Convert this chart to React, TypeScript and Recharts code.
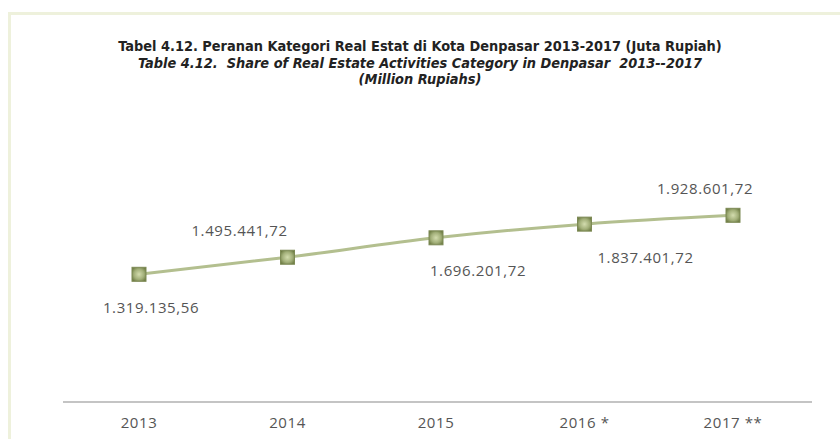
// Peranan kategori real estat Kota Denpasar, garis dengan label nilai.
import { LabelList, Line, LineChart, XAxis, YAxis } from "recharts";

const YEARS = ["2013", "2014", "2015", "2016 *", "2017 **"];
const VALUES = [1319135.56, 1495441.72, 1696201.72, 1837401.72, 1928601.72];

// Posisi label relatif ke titik (atas/bawah, geser kiri/kanan) seperti di gambar.
const LABEL_OFFSETS: [number, number][] = [
  [12, 33],
  [-48, -27],
  [42, 32],
  [61, 33],
  [-28, -27],
];

const data = YEARS.map((year, i) => ({ year, value: VALUES[i] }));

// Format Indonesia: titik untuk ribuan, koma untuk desimal.
function fmt(v: number) {
  const [int, dec] = v.toFixed(2).split(".");
  return int.replace(/\B(?=(\d{3})+(?!\d))/g, ".") + "," + dec;
}

const FONT = "'Open Sans', 'Noto Sans', sans-serif";
const TITLE_FONT = "'Liberation Sans Narrow', 'DejaVu Sans Condensed', sans-serif";

function SquareDot(props: { cx?: number; cy?: number; index?: number }) {
  const { cx, cy, index } = props;
  if (cx == null || cy == null) return null;
  return (
    <rect
      key={`dot-${index}`}
      x={cx - 7}
      y={cy - 7}
      width={14}
      height={14}
      fill="url(#dotGrad)"
      stroke="#7d8a55"
      strokeWidth={1}
    />
  );
}

function ValueLabel(props: any) {
  const { x, y, index, value } = props;
  const [dx, dy] = LABEL_OFFSETS[index] ?? [0, -20];
  return (
    <text
      x={x + dx}
      y={y + dy}
      textAnchor="middle"
      dominantBaseline="central"
      fontFamily={FONT}
      fontSize={15}
      letterSpacing={0.6}
      fill="#555"
    >
      {fmt(value)}
    </text>
  );
}

export default function App() {
  return (
    <div
      style={{
        position: "absolute",
        left: 0,
        top: 0,
        width: 840,
        height: 439,
        background: "#fff",
        overflow: "hidden",
      }}
    >
      {/* bingkai krem di atas dan kiri */}
      <div
        style={{
          position: "absolute",
          left: 8,
          top: 12,
          width: 840,
          height: 439,
          borderTop: "3px solid #eef1dc",
          borderLeft: "3px solid #eef1dc",
        }}
      />
      <div
        style={{
          position: "absolute",
          left: 0,
          top: 38,
          width: 840,
          textAlign: "center",
          fontFamily: TITLE_FONT,
          color: "#222",
          fontWeight: "bold",
          fontSize: 14.4,
          lineHeight: "16.5px",
        }}
      >
        <div>Tabel 4.12. Peranan Kategori Real Estat di Kota Denpasar 2013-2017 (Juta Rupiah)</div>
        <div style={{ fontStyle: "italic" }}>
          Table 4.12.&nbsp; Share of Real Estate Activities Category in Denpasar&nbsp; 2013--2017
        </div>
        <div style={{ fontStyle: "italic" }}>(Million Rupiahs)</div>
      </div>
      <div style={{ position: "absolute", left: 0, top: 0 }}>
        <LineChart
          width={840}
          height={439}
          data={data}
          margin={{ top: 160, right: 28, bottom: 0, left: 63 }}
        >
          <defs>
            <radialGradient id="dotGrad" cx="50%" cy="50%" r="60%">
              <stop offset="0%" stopColor="#d3dcae" />
              <stop offset="60%" stopColor="#a3b07a" />
              <stop offset="100%" stopColor="#6f7d45" />
            </radialGradient>
          </defs>
          <XAxis
            dataKey="year"
            height={37}
            padding={{ left: 76, right: 79 }}
            axisLine={{ stroke: "#c4c4c4", strokeWidth: 2 }}
            tickLine={false}
            tick={{ fill: "#555", fontSize: 15, fontFamily: FONT, letterSpacing: 0.6 }}
            tickMargin={9}
            interval={0}
          />
          <YAxis hide domain={[0, 2500000]} />
          <Line
            type="monotone"
            dataKey="value"
            stroke="#b3bf8f"
            strokeWidth={3}
            dot={<SquareDot />}
            activeDot={false}
            isAnimationActive={false}
          >
            <LabelList dataKey="value" content={<ValueLabel />} />
          </Line>
        </LineChart>
      </div>
    </div>
  );
}
